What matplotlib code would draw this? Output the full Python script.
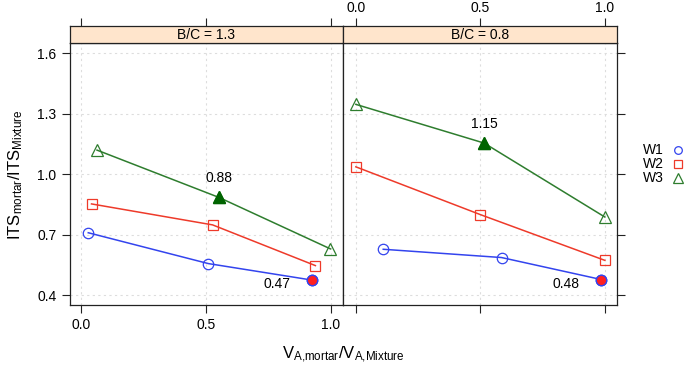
import matplotlib.pyplot as plt
from matplotlib.lines import Line2D
import numpy as np

plt.rcParams['font.family'] = ['Liberation Sans', 'DejaVu Sans']

# data
panels = ['B/C = 1.3', 'B/C = 0.8']
series = ['W1', 'W2', 'W3']

x_w1 = [[0.03, 0.51, 0.925], [0.11, 0.585, 0.985]]
y_w1 = [[0.71, 0.557, 0.475], [0.628, 0.587, 0.478]]
x_w2 = [[0.043, 0.527, 0.938], [0.0, 0.50, 1.0]]
y_w2 = [[0.853, 0.749, 0.547], [1.037, 0.80, 0.573]]
x_w3 = [[0.065, 0.553, 0.998], [0.0, 0.515, 1.0]]
y_w3 = [[1.12, 0.885, 0.63], [1.347, 1.155, 0.788]]

# highlighted points and their labels
hl_tri_x = [0.553, 0.515]
hl_tri_y = [0.885, 1.155]
hl_tri_lab = ['0.88', '1.15']
hl_dot_x = [0.925, 0.985]
hl_dot_y = [0.475, 0.478]
hl_dot_lab = ['0.47', '0.48']

xticks = [0.0, 0.5, 1.0]
yticks = [0.4, 0.7, 1.0, 1.3, 1.6]

blue = '#3344ee'
red = '#ee3a2a'
green = '#2e7d2e'

fig = plt.figure(figsize=(6.85, 3.65), dpi=100)

W, H = 685, 365
left0, right1 = 69.5, 617.3
top_panel, bot_panel, top_strip = 43.3, 305.3, 26.0
pw = (right1 - left0) / 2

for i in range(2):
    l = left0 + i * pw
    ax = fig.add_axes([l / W, (H - bot_panel) / H, pw / W, (bot_panel - top_panel) / H])
    ax.set_xlim(-0.045 if i == 0 else -0.05, 1.05)
    ax.set_ylim(0.35, 1.65)
    ax.set_xticks(xticks)
    ax.set_yticks(yticks)
    ax.grid(True, color='#dddddd', linestyle=(0, (2, 3)), linewidth=0.8)
    ax.set_axisbelow(True)

    ax.plot(x_w1[i], y_w1[i], color=blue, lw=1.1, marker='o', ms=7.5, mfc='none', mec=blue, mew=0.9)
    ax.plot(x_w2[i], y_w2[i], color=red, lw=1.1, marker='s', ms=7.5, mfc='none', mec=red, mew=0.9)
    ax.plot(x_w3[i], y_w3[i], color=green, lw=1.1, marker='^', ms=9, mfc='none', mec=green, mew=0.9)

    ax.plot(hl_tri_x[i], hl_tri_y[i], marker='^', ms=9, color='#006400', zorder=5)
    ax.plot(hl_dot_x[i], hl_dot_y[i], marker='o', ms=7.5, mfc='#ff2020', mec=blue, mew=1.0, zorder=5)

    ax.text(hl_tri_x[i], hl_tri_y[i] + 0.095, hl_tri_lab[i], ha='center', va='center', fontsize=10)
    ax.text(hl_dot_x[i] - 0.14, hl_dot_y[i] - 0.02, hl_dot_lab[i], ha='center', va='center', fontsize=10)

    ax.tick_params(direction='out', length=6, width=0.8, labelsize=10, color='#222222',
                   top=False, right=(i == 1), left=(i == 0),
                   labeltop=False, labelbottom=(i == 0),
                   labelleft=(i == 0), labelright=False)
    for s in ax.spines.values():
        s.set_linewidth(0.9)
        s.set_color('#222222')
    ax.set_xticklabels(['0.0', '0.5', '1.0'])
    ax.set_yticklabels(['0.4', '0.7', '1.0', '1.3', '1.6'])

    # strip
    sx = fig.add_axes([l / W, (H - top_panel) / H, pw / W, (top_panel - top_strip) / H])
    sx.set_facecolor('#ffe5cc')
    sx.set_xticks([])
    sx.set_yticks([])
    for s in sx.spines.values():
        s.set_linewidth(0.9)
        s.set_color('#222222')
    sx.text(0.5, 0.5, panels[i], ha='center', va='center', fontsize=10, transform=sx.transAxes)

    # ticks above the strip (labels only on the right panel)
    tick_ax = sx.twiny()
    tick_ax.set_xlim(ax.get_xlim())
    tick_ax.set_xticks(xticks)
    tick_ax.set_xticklabels(['0.0', '0.5', '1.0'])
    tick_ax.tick_params(direction='out', length=6, width=0.8, labelsize=10, color='#222222', pad=2,
                        labeltop=(i == 1))
    for s in tick_ax.spines.values():
        s.set_visible(False)

# legend
leg_y = [150, 164, 178]
leg_mk = [('o', blue, 5.5), ('s', red, 5.5), ('^', green, 6.5)]
for name, yy, (mk, c, ms) in zip(series, leg_y, leg_mk):
    fig.text(643 / W, (H - yy) / H, name, ha='left', va='center', fontsize=10)
    fig.add_artist(Line2D([678 / W], [(H - yy) / H], marker=mk, ms=ms, mfc='none', mec=c, mew=0.9,
                          linestyle='none', transform=fig.transFigure))

fig.text(343 / W, (H - 355) / H, r'$\mathregular{V_{A{,}mortar}/V_{A{,}Mixture}}$', ha='center', va='center', fontsize=12)
fig.text(16 / W, (H - 175) / H, r'$\mathregular{ITS_{mortar}/ITS_{Mixture}}$', ha='center', va='center',
         fontsize=12, rotation=90)

plt.savefig('out.png', dpi=100)
